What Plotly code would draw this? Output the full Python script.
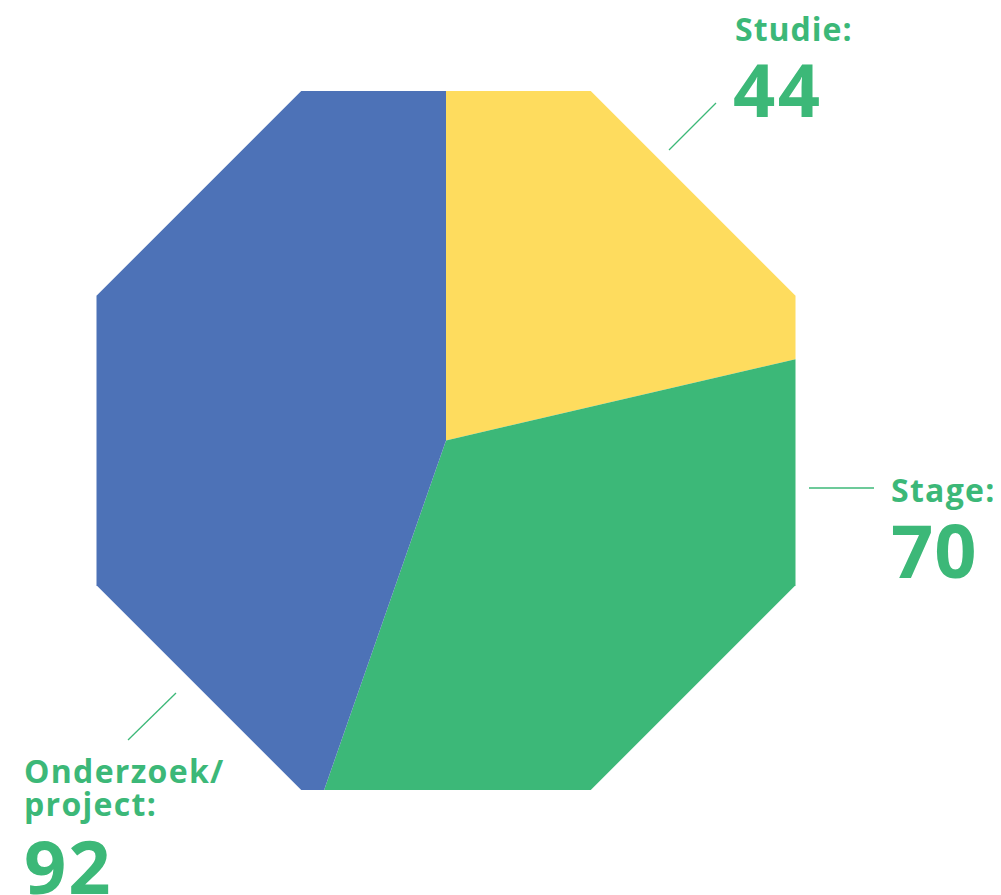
import numpy as np
import plotly.graph_objects as go

# data
labels = ["Studie", "Stage", "Onderzoek/project"]
values = [44, 70, 92]
colors = ["#FEDC5E", "#3CB878", "#4D72B7"]

GREEN = "#3CB878"
FONT = "Open Sans"
OFF = 8  # page body margin

cx, cy = 446, 440.5   # octagon centre in pixel units
apothem = 349.5


def oct_point(theta):
    # theta in degrees, clockwise from 12 o'clock
    edge = 45 * np.round(theta / 45)
    r = apothem / np.cos(np.radians(theta - edge))
    t = np.radians(theta)
    return cx + r * np.sin(t), cy - r * np.cos(t)


fig = go.Figure()

total = sum(values)
start = 0.0
for lab, val, col in zip(labels, values, colors):
    end = start + 360.0 * val / total
    angs = [start] + [a for a in np.arange(22.5, 360, 45) if start < a < end] + [end]
    pts = [oct_point(a) for a in angs]
    xs = [cx] + [p[0] for p in pts] + [cx]
    ys = [cy] + [p[1] for p in pts] + [cy]
    fig.add_trace(go.Scatter(x=xs, y=ys, fill="toself", fillcolor=col,
                             mode="lines", line=dict(width=0, color=col),
                             hoverinfo="skip", showlegend=False))
    start = end

# leader lines
for x0, y0, x1, y1 in [(669, 150, 716, 103), (809, 488, 874, 488), (128, 740, 176, 693)]:
    fig.add_shape(type="line", x0=x0, y0=y0, x1=x1, y1=y1,
                  line=dict(color=GREEN, width=1.3))

# labels
small = 32
big = 74
texts = [
    ("Studie:", 733, 28, small, 1),
    (str(values[0]), 731, 88, big, 2.5),
    ("Stage:", 889, 489, small, 1.3),
    (str(values[1]), 889, 549, big, 1),
    ("Onderzoek/", 22, 770, small, 1.3),
    ("project:", 22, 803, small, 1.3),
    (str(values[2]), 22, 865, big, 2),
]
for t, x, y, s, ls in texts:
    fig.add_annotation(x=x, y=y, showarrow=False,
                       text='<b><span style="letter-spacing:%spx">%s</span></b>' % (ls, t),
                       xanchor="left", yanchor="middle", align="left",
                       font=dict(family=FONT, size=s, color=GREEN))

fig.update_layout(
    width=1001, height=895,
    margin=dict(l=0, r=0, t=0, b=0),
    paper_bgcolor="white", plot_bgcolor="white",
    xaxis=dict(range=[OFF, 1001 + OFF], visible=False),
    yaxis=dict(range=[895 + OFF, OFF], visible=False),
)

fig.write_html("out.html")
